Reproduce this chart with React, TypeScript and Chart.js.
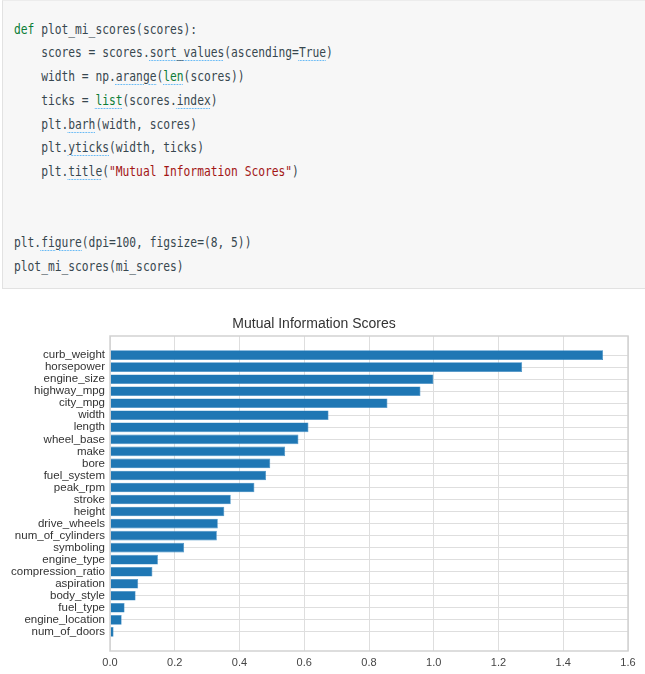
import React, { useEffect, useRef } from "react";
import { Chart, registerables } from "chart.js";

Chart.register(...registerables);

// Features sorted ascending (index 0 = bottom bar)
const featureLabels: string[] = [
  "num_of_doors",
  "engine_location",
  "fuel_type",
  "body_style",
  "aspiration",
  "compression_ratio",
  "engine_type",
  "symboling",
  "num_of_cylinders",
  "drive_wheels",
  "height",
  "stroke",
  "peak_rpm",
  "fuel_system",
  "bore",
  "make",
  "wheel_base",
  "length",
  "width",
  "city_mpg",
  "highway_mpg",
  "engine_size",
  "horsepower",
  "curb_weight",
];

const miScores: number[] = [
  0.011, 0.036, 0.045, 0.079, 0.087, 0.131, 0.148, 0.229, 0.33, 0.333, 0.353,
  0.373, 0.446, 0.482, 0.495, 0.541, 0.582, 0.613, 0.675, 0.857, 0.959, 0.999,
  1.273, 1.523,
];

const xTicks: number[] = [0, 0.2, 0.4, 0.6, 0.8, 1.0, 1.2, 1.4, 1.6];

const chartTitle = "Mutual Information Scores";

type Tok = [string, string?];
const codeLines: Tok[][] = [
  [["def", "kw"], [" plot_mi_scores(scores):"]],
  [["    scores = scores."], ["sort_values", "u"], ["(ascending="], ["True", "u"], [")"]],
  [["    width = np."], ["arange", "u"], ["("], ["len", "bi"], ["(scores))"]],
  [["    ticks = "], ["list", "bi"], ["(scores."], ["index", "u"], [")"]],
  [["    plt."], ["barh", "u"], ["(width, scores)"]],
  [["    plt."], ["yticks", "u"], ["(width, ticks)"]],
  [["    plt."], ["title", "u"], ["("], ['"Mutual Information Scores"', "str"], [")"]],
  [[""]],
  [[""]],
  [["plt."], ["figure", "u"], ["(dpi=100, figsize=(8, 5))"]],
  [["plot_mi_scores(mi_scores)"]],
];

function tokStyle(kind?: string): React.CSSProperties {
  const underline: React.CSSProperties = {
    textDecorationLine: "underline",
    textDecorationStyle: "dotted",
    textDecorationColor: "#3fa9f5",
    textDecorationThickness: "1px",
    textUnderlineOffset: "3px",
  };
  if (kind === "kw") return { color: "#0b7d36" };
  if (kind === "bi") return { color: "#0b7d36", ...underline };
  if (kind === "str") return { color: "#a31515" };
  if (kind === "u") return underline;
  return {};
}

const framePlugin = {
  id: "frame",
  afterDatasetsDraw(chart: any) {
    const { ctx, chartArea } = chart;
    ctx.save();
    ctx.strokeStyle = "#d2d2d2";
    ctx.lineWidth = 1.5;
    ctx.strokeRect(
      chartArea.left,
      chartArea.top,
      chartArea.right - chartArea.left,
      chartArea.bottom - chartArea.top
    );
    ctx.restore();
  },
};

function MIChart() {
  const ref = useRef<HTMLCanvasElement | null>(null);
  useEffect(() => {
    if (!ref.current) return;
    const data = miScores.map((v, i) => ({ x: v, y: i }));
    const chart = new Chart(ref.current, {
      type: "bar",
      data: {
        datasets: [
          {
            data: data as any,
            backgroundColor: "#1f77b4",
            borderColor: "#3b8ac4",
            borderWidth: 0.6,
            categoryPercentage: 0.8,
            barPercentage: 1,
          },
        ],
      },
      options: {
        indexAxis: "y",
        responsive: false,
        animation: false,
        layout: { padding: { left: 0, right: 17, top: 0, bottom: 0 } },
        plugins: {
          legend: { display: false },
          tooltip: { enabled: false },
          title: {
            display: true,
            text: chartTitle,
            color: "#333333",
            font: { family: "'Liberation Sans', Arial, sans-serif", size: 14, weight: "normal", lineHeight: 1.2 },
            padding: { top: 25.4, bottom: 3.8 },
          },
        },
        scales: {
          x: {
            type: "linear",
            min: 0,
            max: 1.6,
            afterBuildTicks: (axis: any) => {
              axis.ticks = xTicks.map((v) => ({ value: v }));
            },
            afterFit: (axis: any) => {
              axis.height = 23;
            },
            grid: { color: "#dedede", lineWidth: 1, drawTicks: false },
            border: { display: false },
            ticks: {
              color: "#444444",
              padding: 5,
              font: { family: "'Liberation Sans', Arial, sans-serif", size: 11 },
              callback: (v: any) => Number(v).toFixed(1),
            },
          },
          y: {
            type: "linear",
            offset: false,
            min: -1.59,
            max: 24.59,
            afterBuildTicks: (axis: any) => {
              axis.ticks = featureLabels.map((_, i) => ({ value: i }));
            },
            afterFit: (axis: any) => {
              axis.width = 110;
            },
            grid: { color: "#dedede", lineWidth: 1, drawTicks: false, offset: false },
            border: { display: false },
            ticks: {
              autoSkip: false,
              color: "#333333",
              padding: 5,
              font: { family: "'Liberation Sans', Arial, sans-serif", size: 11.5 },
              callback: (v: any) => featureLabels[Number(v)] ?? "",
            },
          },
        },
      },
      plugins: [framePlugin],
    } as any);
    return () => chart.destroy();
  }, []);
  return <canvas ref={ref} width={645} height={384} style={{ display: "block", width: 645, height: 384 }} />;
}

export default function App() {
  return (
    <div style={{ position: "absolute", left: 0, top: 0, width: 645, height: 674, background: "#ffffff", overflow: "hidden" }}>
      <div
        style={{
          position: "absolute",
          left: 2,
          top: 0,
          width: 650,
          height: 289,
          background: "#f7f7f7",
          borderLeft: "1px solid #e2e2e2",
          borderBottom: "1px solid #e2e2e2",
          borderTop: "1px solid #ececec",
          boxSizing: "border-box",
        }}
      >
        <div
          style={{
            position: "absolute",
            left: 11,
            top: 16.5,
            transform: "scaleX(0.777)",
            transformOrigin: "left top",
            fontFamily: "'DejaVu Sans Mono', 'Liberation Mono', monospace",
            fontSize: 14.5,
            lineHeight: "23.76px",
            color: "#37474f",
            whiteSpace: "pre",
          }}
        >
          {codeLines.map((line, li) => (
            <div key={li} style={{ height: 23.76 }}>
              {line.map((t, ti) => (
                <span key={ti} style={tokStyle(t[1])}>
                  {t[0]}
                </span>
              ))}
            </div>
          ))}
        </div>
      </div>
      <div style={{ position: "absolute", left: 0, top: 290, width: 645, height: 384 }}>
        <MIChart />
      </div>
    </div>
  );
}
